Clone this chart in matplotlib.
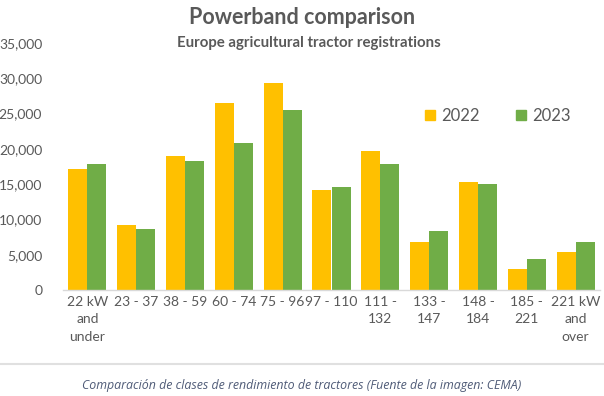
import numpy as np
import matplotlib.pyplot as plt
from matplotlib.patches import Patch
from matplotlib.ticker import FuncFormatter

# Data
categories = ["22 kW\nand\nunder", "23 - 37", "38 - 59", "60 - 74", "75 - 96",
              "97 - 110", "111 -\n132", "133 -\n147", "148 -\n184", "185 -\n221",
              "221 kW\nand\nover"]
reg_2022 = [17100, 9200, 19000, 26500, 29300, 14200, 19700, 6800, 15300, 3000, 5400]
reg_2023 = [17800, 8600, 18300, 20800, 25500, 14600, 17800, 8400, 15000, 4400, 6800]
years = ["2022", "2023"]

YELLOW = "#FFC000"
GREEN = "#70AD47"
TEXT = "#595959"

plt.rcParams['font.family'] = ['Lato', 'DejaVu Sans']

fig = plt.figure(figsize=(6.04, 3.96), dpi=100)
ax = fig.add_axes([63 / 604, 1 - 290 / 396, 537 / 604, 247 / 396])

x = np.arange(len(categories))
w = 0.39
ax.bar(x - w / 2, reg_2022, width=w, color=YELLOW)
ax.bar(x + w / 2, reg_2023, width=w, color=GREEN)

ax.set_xlim(-0.5, len(categories) - 0.5)
ax.set_ylim(0, 35000)
ax.set_yticks(np.arange(0, 35001, 5000))
ax.yaxis.set_major_formatter(FuncFormatter(lambda v, p: f"{int(v):,}"))
ax.set_xticks(x)
ax.set_xticklabels(categories, linespacing=1.55)

ax.tick_params(axis='y', length=0, pad=15, labelsize=10, labelcolor=TEXT)
ax.tick_params(axis='x', length=0, pad=4, labelsize=10, labelcolor=TEXT)
for s in ['top', 'right', 'left']:
    ax.spines[s].set_visible(False)
ax.spines['bottom'].set_color("#D9D9D9")
ax.spines['bottom'].set_linewidth(1)

# titles
fig.text(0.5, 1 - 18 / 396, "Powerband comparison", ha='center', va='center',
         fontsize=15.5, fontweight='bold', color=TEXT)
fig.text(0.511, 1 - 43 / 396, "Europe agricultural tractor registrations", ha='center',
         va='center', fontsize=10.8, fontweight='bold', color=TEXT)

handles = [Patch(color=YELLOW), Patch(color=GREEN)]
fig.legend(handles, years, loc='center', bbox_to_anchor=(498 / 604, 1 - 116 / 396),
           ncol=2, frameon=False, fontsize=12, labelcolor=TEXT,
           handlelength=0.55, handleheight=0.55, handletextpad=0.4, columnspacing=2.2)

# frame line and caption
fig.add_artist(plt.Line2D([0, 1], [1 - 364 / 396] * 2, color="#E0E0E0", lw=1.5))
fig.text(0.5, 1 - 385 / 396,
         "Comparación de clases de rendimiento de tractores (Fuente de la imagen: CEMA)",
         ha='center', va='center', fontsize=8.9, style='italic', color="#4F5B77",
         family=['Open Sans', 'DejaVu Sans'])

fig.savefig("out.png", dpi=100)
